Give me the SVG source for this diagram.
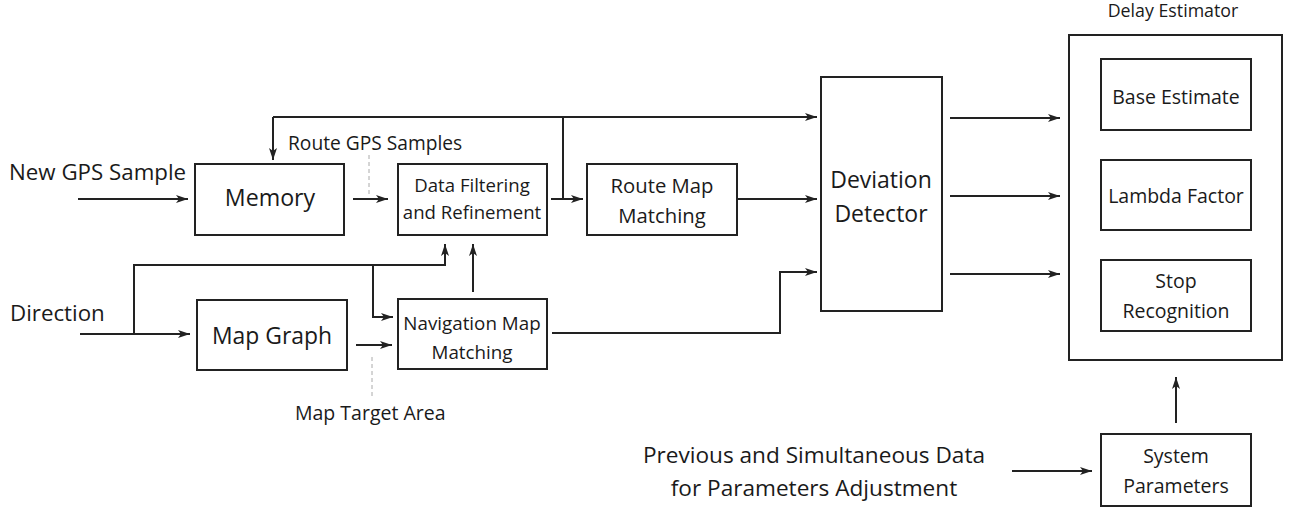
<svg xmlns="http://www.w3.org/2000/svg" width="1292" height="508" viewBox="0 0 1292 508">
<style>
.box{fill:#fff;stroke:#222;stroke-width:2}
.ln{fill:none;stroke:#222;stroke-width:2}
.arr{marker-end:url(#ah)}
.dash{fill:none;stroke:#aaa;stroke-width:1;stroke-dasharray:4 3}
text{font-family:"Open Sans","Liberation Sans",sans-serif;fill:#1a1a1a}
.c{text-anchor:middle}
.big{font-size:22.3px}
.mid{font-size:19.2px}
.sm{font-size:19.5px}
.df{font-size:18.6px}
.de{font-size:19.5px}
</style>
<defs>
<marker id="ah" viewBox="0 0 12 8" refX="12" refY="4" markerWidth="12" markerHeight="8" markerUnits="userSpaceOnUse" orient="auto">
<path d="M0,0 L12,4 L0,8 L3,4 z" fill="#222"/>
</marker>
</defs>
<rect width="1292" height="508" fill="#fff"/>
<g id="connectors">
<path class="ln arr" d="M78,199 H188"/>
<path class="ln arr" d="M353,199 H388"/>
<path class="ln arr" d="M273,117 V160"/>
<path class="ln arr" d="M273,117 H817"/>
<path class="ln" d="M563,117 V199"/>
<path class="ln arr" d="M551,199 H583"/>
<path class="ln arr" d="M737,199 H817"/>
<path class="ln arr" d="M552,333 H780 V272 H817"/>
<path class="ln arr" d="M80,334 H190"/>
<path class="ln arr" d="M134,334 V265 H445 V244"/>
<path class="ln arr" d="M373,265 V317 H393"/>
<path class="ln arr" d="M356,345 H392"/>
<path class="ln arr" d="M473,292 V244"/>
<path class="ln arr" d="M950,118 H1060"/>
<path class="ln arr" d="M950,196 H1060"/>
<path class="ln arr" d="M950,274 H1060"/>
<path class="ln arr" d="M1176,423 V377"/>
<path class="ln arr" d="M1012,471 H1092"/>
<path class="dash" d="M369,155 V197"/>
<path class="dash" d="M372,357 V398"/>
</g>
<g id="labels">
<text class="big" x="9" y="180">New GPS Sample</text>
<text class="mid" x="288" y="150">Route GPS Samples</text>
<text class="big" x="10" y="321">Direction</text>
<text class="sm" x="295" y="420">Map Target Area</text>
<text class="c" x="814" y="463" style="font-size:22.6px">Previous and Simultaneous Data</text>
<text class="c" x="814" y="496" style="font-size:22.6px">for Parameters Adjustment</text>
</g>
<g id="memory">
<rect class="box" x="195" y="164" width="149" height="71"/>
<text class="c" x="270" y="206" style="font-size:23.2px">Memory</text>
</g>
<g id="data-filtering">
<rect class="box" x="398" y="164" width="149" height="71"/>
<text class="c df" x="472" y="192">Data Filtering</text>
<text class="c df" x="472" y="219">and Refinement</text>
</g>
<g id="route-map-matching">
<rect class="box" x="587" y="164" width="150" height="71"/>
<text class="c" x="662" y="193" style="font-size:20.3px">Route Map</text>
<text class="c" x="662" y="223" style="font-size:20.3px">Matching</text>
</g>
<g id="map-graph">
<rect class="box" x="197" y="300" width="150" height="70"/>
<text class="c" x="272" y="344" style="font-size:22.9px">Map Graph</text>
</g>
<g id="navigation-map-matching">
<rect class="box" x="398" y="299" width="149" height="70"/>
<text class="c" x="472" y="330" style="font-size:18.8px">Navigation Map</text>
<text class="c" x="472" y="359" style="font-size:18.8px">Matching</text>
</g>
<g id="deviation-detector">
<rect class="box" x="821" y="77" width="121" height="234"/>
<text class="c" x="881" y="188" style="font-size:23px">Deviation</text>
<text class="c" x="881" y="222" style="font-size:23px">Detector</text>
</g>
<g id="delay-estimator">
<rect class="box" x="1069" y="35" width="213" height="325"/>
<text class="c" x="1173" y="17" style="font-size:17.8px">Delay Estimator</text>
</g>
<g id="base-estimate">
<rect class="box" x="1101" y="59" width="150" height="71"/>
<text class="c de" x="1176" y="104">Base Estimate</text>
</g>
<g id="lambda-factor">
<rect class="box" x="1101" y="160" width="150" height="70"/>
<text class="c de" x="1176" y="203">Lambda Factor</text>
</g>
<g id="stop-recognition">
<rect class="box" x="1101" y="260" width="150" height="71"/>
<text class="c de" x="1176" y="288">Stop</text>
<text class="c de" x="1176" y="318">Recognition</text>
</g>
<g id="system-parameters">
<rect class="box" x="1101" y="434" width="150" height="72"/>
<text class="c de" x="1176" y="463">System</text>
<text class="c de" x="1176" y="493">Parameters</text>
</g>
</svg>
